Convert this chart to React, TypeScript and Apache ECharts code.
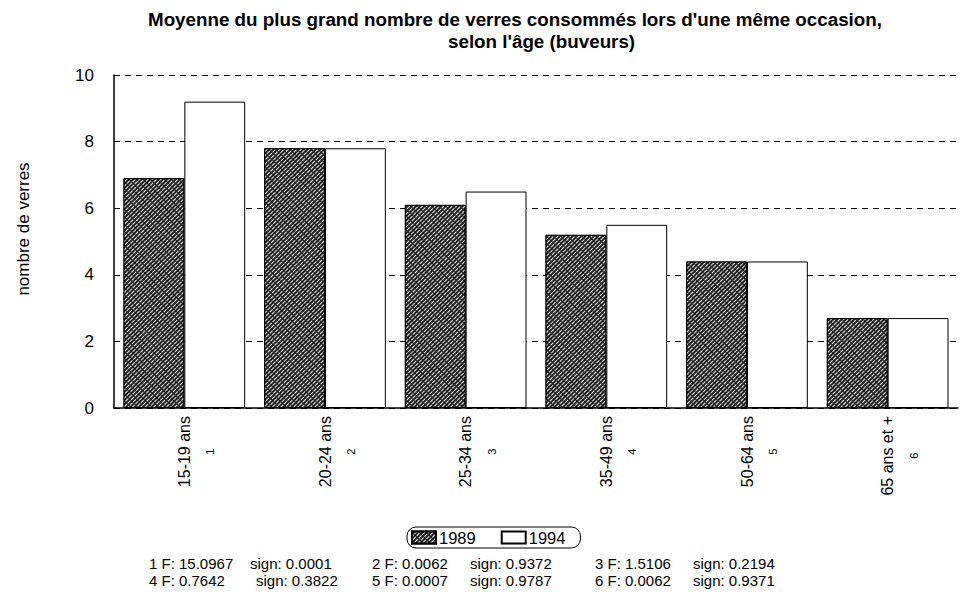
import React, { useEffect, useRef } from "react";
import * as echarts from "echarts";

const titleLine1 = "Moyenne du plus grand nombre de verres consommés lors d'une même occasion,";
const titleLine2 = "selon l'âge (buveurs)";
const yAxisName = "nombre de verres";
const categories = ["15-19 ans", "20-24 ans", "25-34 ans", "35-49 ans", "50-64 ans", "65 ans et +"];
const categoryNumbers = ["1", "2", "3", "4", "5", "6"];
const seriesNames = ["1989", "1994"];
const values1989 = [6.9, 7.8, 6.1, 5.2, 4.4, 2.7];
const values1994 = [9.2, 7.8, 6.5, 5.5, 4.4, 2.7];
const yTicks = [0, 2, 4, 6, 8, 10];
const statIds = ["1", "2", "3", "4", "5", "6"];
const statF = ["15.0967", "0.0062", "1.5106", "0.7642", "0.0007", "0.0062"];
const statSign = ["0.0001", "0.9372", "0.2194", "0.3822", "0.9787", "0.9371"];

const FONT = "'Liberation Sans', Arial, Helvetica, sans-serif";

export default function App() {
  const ref = useRef<HTMLDivElement>(null);
  useEffect(() => {
    if (!ref.current) return;
    const chart = echarts.init(ref.current, null, { renderer: "svg" });
    const hatch = {
      symbol: "rect",
      symbolSize: 1,
      dashArrayX: [[4, 1]],
      dashArrayY: [1, 2],
      rotation: -Math.PI / 4,
      color: "#f0f0f0",
      backgroundColor: "#1e1e1e",
    };
    const statTexts: any[] = [];
    statIds.forEach((id, i) => {
      const col = i % 3;
      const row = Math.floor(i / 3);
      const x = 149 + col * 223;
      const yc = 563 + row * 17;
      const signOffset = col === 0 ? (row === 0 ? 101 : 107) : 98;
      statTexts.push({
        type: "text",
        x: x,
        y: yc,
        style: {
          text: `${id} F: ${statF[i]}`,
          font: `15px ${FONT}`,
          fill: "#000",
          textVerticalAlign: "middle",
        },
      });
      statTexts.push({
        type: "text",
        x: x + signOffset,
        y: yc,
        style: {
          text: `sign: ${statSign[i]}`,
          font: `15px ${FONT}`,
          fill: "#000",
          textVerticalAlign: "middle",
        },
      });
    });
    chart.setOption({
      animation: false,
      backgroundColor: "#fff",
      textStyle: { fontFamily: FONT },
      title: [
        {
          text: titleLine1,
          left: 148,
          top: 10,
          padding: 0,
          textStyle: { fontFamily: FONT, fontWeight: "bold", fontSize: 18.8, color: "#000" },
        },
        {
          text: titleLine2,
          left: 448,
          top: 32,
          padding: 0,
          textStyle: { fontFamily: FONT, fontWeight: "bold", fontSize: 18.8, color: "#000" },
        },
      ],
      legend: {
        left: 407,
        top: 527,
        data: seriesNames,
        icon: "rect",
        itemWidth: 24,
        itemHeight: 12,
        itemGap: 25,
        borderColor: "#000",
        borderWidth: 1,
        borderRadius: 9,
        padding: [2, 15, 2, 4],
        textStyle: { fontFamily: FONT, fontSize: 16.5, color: "#000", padding: [0, 0, 0, -2] },
      },
      grid: { left: 114, right: 8, top: 75, bottom: 184, containLabel: false },
      xAxis: {
        type: "category",
        data: categories,
        axisLine: { show: true, lineStyle: { color: "#000", width: 1.5 } },
        axisTick: { show: false },
        axisLabel: {
          rotate: 90,
          margin: 8,
          interval: 0,
          formatter: (v: string, idx: number) => `{a|${v}}\n{b|${categoryNumbers[idx]}}`,
          padding: [26, 0, 0, 0],
          rich: {
            a: { fontFamily: FONT, fontSize: 16, lineHeight: 26, align: "center", color: "#000" },
            b: { fontFamily: FONT, fontSize: 11, lineHeight: 26, align: "center", color: "#000" },
          },
        },
      },
      yAxis: {
        type: "value",
        min: yTicks[0],
        max: yTicks[yTicks.length - 1],
        interval: 2,
        axisLine: { show: true, lineStyle: { color: "#000", width: 1.5 } },
        axisTick: { show: true, inside: true, length: 4, lineStyle: { color: "#000" } },
        axisLabel: { fontFamily: FONT, fontSize: 17, color: "#000", margin: 20 },
        splitLine: { show: true, lineStyle: { color: "#000", type: [6, 5], width: 1 } },
      },
      series: [
        {
          name: seriesNames[0],
          type: "bar",
          data: values1989,
          barGap: "0%",
          barCategoryGap: "13.5%",
          itemStyle: { color: "#1e1e1e", borderColor: "#000", borderWidth: 1, decal: hatch },
        },
        {
          name: seriesNames[1],
          type: "bar",
          data: values1994,
          barGap: "0%",
          barCategoryGap: "13.5%",
          itemStyle: { color: "#fff", borderColor: "#000", borderWidth: 1 },
        },
      ],
      graphic: [
        {
          type: "text",
          x: 15,
          y: 229,
          rotation: Math.PI / 2,
          style: {
            text: yAxisName,
            font: `17px ${FONT}`,
            fill: "#000",
            textAlign: "center",
            textVerticalAlign: "top",
          },
        },
        ...statTexts,
      ],
    });
    return () => chart.dispose();
  }, []);
  return (
    <div
      ref={ref}
      style={{ position: "absolute", left: 0, top: 0, width: 966, height: 592 }}
    />
  );
}
